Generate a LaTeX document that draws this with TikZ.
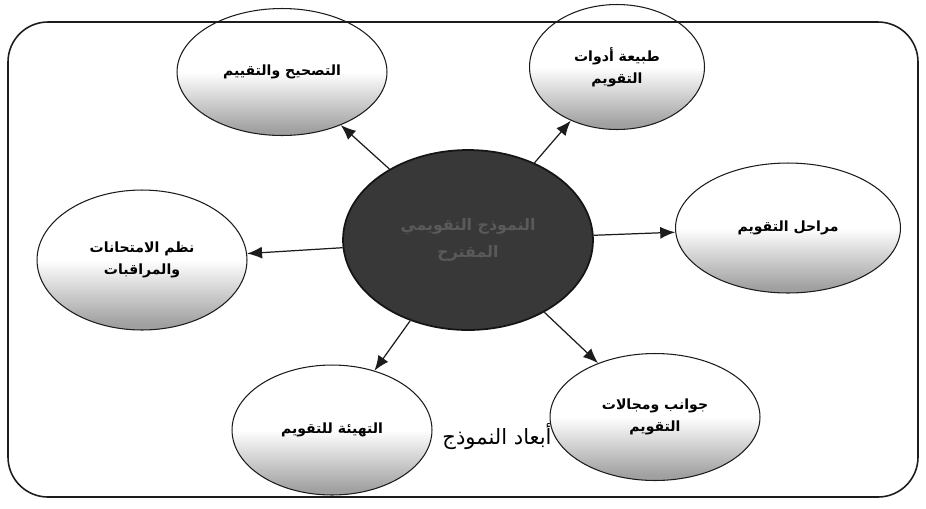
\documentclass[tikz,border=0pt]{standalone}
\usepackage{fontspec}
\usepackage{xcolor}
\usetikzlibrary{shapes.geometric,arrows.meta}
\TeXXeTstate=1
\newfontfamily\arabicfont[Script=Arabic]{DejaVu Sans}
\definecolor{ink}{HTML}{1C1C1C}
\definecolor{disc}{HTML}{383838}
\definecolor{discrim}{HTML}{151515}
\definecolor{discink}{HTML}{5A5A5A}
\definecolor{haze}{HTML}{A0A0A0}
\pgfdeclareverticalshading{dimshade}{100bp}{color(0bp)=(haze); color(27bp)=(haze); color(50bp)=(white); color(100bp)=(white)}

\begin{document}
\begin{tikzpicture}[x=0.02cm,y=-0.02cm,every node/.style={font=\arabicfont\footnotesize\bfseries},
   dim/.style={draw=ink,ellipse,line width=0.6pt,shading=dimshade,align=center,inner sep=0pt},
   spoke/.style={draw=ink,line width=0.7pt,-{Latex[length=3mm,width=2.4mm]}}]
\useasboundingbox (0,0) rectangle (926,508);
% caption under the ellipses
\node[font=\arabicfont\large] (cap) at (497,437) {\beginR أبعاد النموذج\endR};
% dimension ellipses
\node[dim,minimum width=4.2cm,minimum height=2.54cm] (corr) at (282,72) {\beginR التصحيح والتقييم\endR};
\node[dim,minimum width=3.5cm,minimum height=2.5cm] (tools) at (617,67) {\beginR طبيعة أدوات\endR\\[3pt]\beginR التقويم\endR};
\node[dim,minimum width=4.2cm,minimum height=2.8cm] (exam) at (142,260) {\beginR نظم الامتحانات\endR\\[3pt]\beginR والمراقبات\endR};
\node[dim,minimum width=4.5cm,minimum height=2.6cm] (stage) at (788,228) {\beginR مراحل التقويم\endR};
\node[dim,minimum width=4.0cm,minimum height=2.6cm] (prep) at (332,430) {\beginR التهيئة للتقويم\endR};
\node[dim,minimum width=4.2cm,minimum height=2.54cm] (field) at (655,417) {\beginR جوانب ومجالات\endR\\[3pt]\beginR التقويم\endR};
% central model
\node[ellipse,draw=discrim,line width=1pt,fill=disc,text=discink,font=\arabicfont\small\bfseries,
   align=center,minimum width=5cm,minimum height=3.6cm,inner sep=0pt] (core) at (468,240)
   {\beginR النموذج التقويمي\endR\\[4pt]\beginR المقترح\endR};
% spokes
\draw[spoke] (core) -- (corr);
\draw[spoke] (core) -- (tools);
\draw[spoke] (core) -- (exam);
\draw[spoke] (core) -- (stage);
\draw[spoke] (core) -- (prep);
\draw[spoke] (core) -- (field);
% outer frame
\draw[ink,line width=0.9pt,rounded corners=0.8cm] (8,22) rectangle (918,497);
\end{tikzpicture}
\end{document}
